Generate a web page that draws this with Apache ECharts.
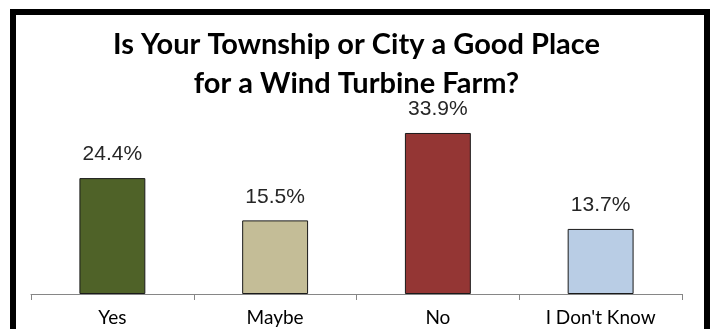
<!DOCTYPE html>
<html>
<head>
<meta charset="utf-8">
<script src="https://cdn.jsdelivr.net/npm/echarts@6/dist/echarts.min.js"></script>
<style>
html,body{margin:0;padding:0;background:#fff;}
#chart{width:713px;height:329px;}
</style>
</head>
<body>
<div id="chart"></div>
<script>
var titleLines = ['Is Your Township or City a Good Place', 'for a Wind Turbine Farm?'];
var categories = ['Yes', 'Maybe', 'No', "I Don't Know"];
var values = [24.4, 15.5, 33.9, 13.7];
var barColors = ['#4F6228', '#C4BD97', '#943634', '#B9CDE5'];

var chart = echarts.init(document.getElementById('chart'), null, {renderer: 'canvas'});
chart.setOption({
  animation: false,
  backgroundColor: '#ffffff',
  title: {
    text: titleLines.join('\n'),
    left: 'center',
    top: 20,
    textStyle: {
      fontFamily: 'Lato',
      fontWeight: 'bold',
      fontSize: 29,
      lineHeight: 39,
      color: '#000000'
    }
  },
  graphic: [{
    type: 'rect',
    shape: {x: 13, y: 12, width: 694, height: 340},
    style: {fill: 'none', stroke: '#000000', lineWidth: 6},
    silent: true,
    z: 100
  }],
  grid: {left: 31, right: 31, top: 104, bottom: 35},
  xAxis: {
    type: 'category',
    data: categories,
    axisLine: {lineStyle: {color: '#868686', width: 1}},
    axisTick: {show: true, length: 6, lineStyle: {color: '#868686'}},
    axisLabel: {
      fontFamily: 'Lato',
      fontSize: 19,
      color: '#000000',
      margin: 14
    }
  },
  yAxis: {
    type: 'value',
    min: 0,
    max: 40,
    show: false,
    splitLine: {show: false}
  },
  series: [{
    type: 'bar',
    data: values.map(function (v, i) {
      return {value: v, itemStyle: {color: barColors[i]}};
    }),
    barWidth: '40.5%',
    itemStyle: {borderColor: '#1a1a1a', borderWidth: 1},
    label: {
      show: true,
      position: 'top',
      distance: 13,
      formatter: function (p) { return p.value.toFixed(1) + '%'; },
      fontFamily: 'Liberation Sans',
      fontSize: 21,
      color: '#262626'
    }
  }]
});
</script>
</body>
</html>
